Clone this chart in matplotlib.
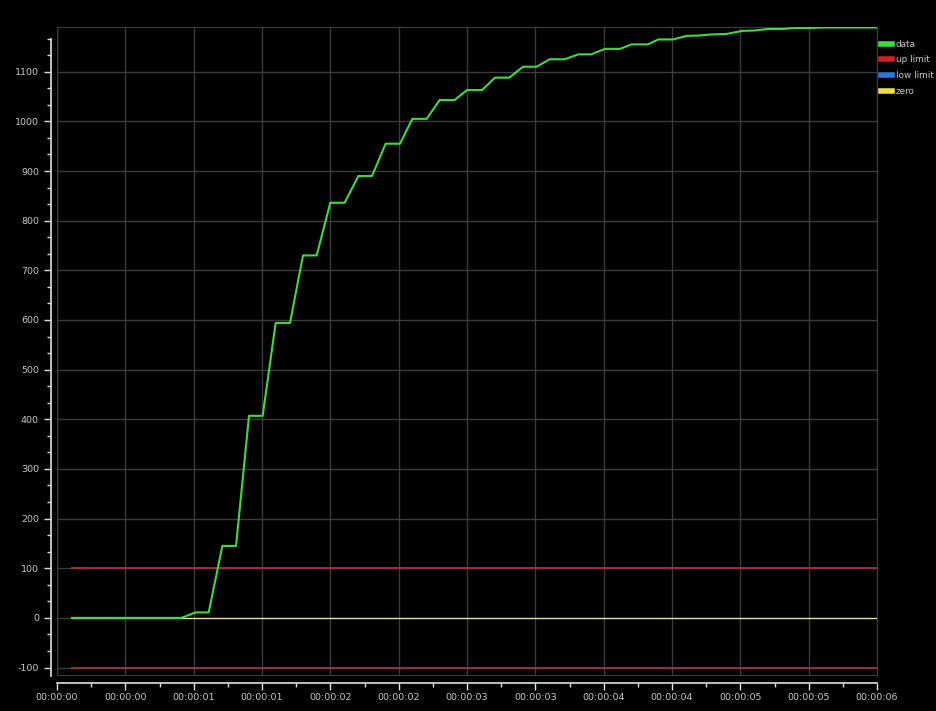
import matplotlib
matplotlib.use("Agg")
import matplotlib.pyplot as plt
from matplotlib.lines import Line2D
from matplotlib.ticker import FuncFormatter, MultipleLocator

# sampled data (seconds, value)
t = [0.11, 0.91, 1.015, 1.11, 1.21, 1.31, 1.405, 1.505, 1.60, 1.705,
     1.80, 1.90, 2.00, 2.105, 2.205, 2.305, 2.405, 2.51, 2.60, 2.705,
     2.80, 2.91, 3.00, 3.11, 3.205, 3.31, 3.41, 3.51, 3.605, 3.715,
     3.815, 3.91, 4.01, 4.12, 4.205, 4.325, 4.40, 4.51, 4.605, 4.705,
     4.79, 4.90, 5.01, 5.105, 5.205, 5.305, 5.41, 5.51, 5.605, 6.0]
data = [0, 0, 11, 11, 145, 145, 407, 407, 594, 594,
        730, 730, 836, 836, 890, 890, 955, 955, 1005, 1005,
        1043, 1043, 1063, 1063, 1088, 1088, 1110, 1110, 1125, 1125,
        1135, 1135, 1146, 1146, 1155, 1155, 1165, 1165, 1172, 1173,
        1175, 1176, 1182, 1183, 1186, 1186, 1188, 1188, 1189, 1189]
up_limit = 100
low_limit = -100
zero = 0

bg = "black"
txt = "#c8c8c8"
grid_c = "#3c3c3c"

fig = plt.figure(figsize=(9.36, 7.11), dpi=100, facecolor=bg)
ax = fig.add_axes([57 / 936, 1 - 676 / 711, 820 / 936, 649 / 711], facecolor=bg)

t0, t1 = t[0], t[-1]
ax.plot([t0, t1], [low_limit, low_limit], color="#a8303c", lw=1.3, zorder=2)
ax.plot([t0, t1], [up_limit, up_limit], color="#a8303c", lw=1.3, zorder=2)
ax.plot([t0, t1], [zero, zero], color="#eee8a8", lw=0.9, zorder=2)
ax.plot(t, data, color="#3cdc3c", lw=1.5, zorder=3)

ax.set_xlim(0, 6)
ax.set_ylim(-117, 1190)

ax.xaxis.set_major_locator(MultipleLocator(0.5))
ax.xaxis.set_minor_locator(MultipleLocator(0.25))
ax.yaxis.set_major_locator(MultipleLocator(100))
ax.yaxis.set_minor_locator(MultipleLocator(100 / 3))


def fmt_time(v, pos):
    s = int(v + 1e-9)
    return "%02d:%02d:%02d" % (s // 3600, (s // 60) % 60, s % 60)


ax.xaxis.set_major_formatter(FuncFormatter(fmt_time))
ax.yaxis.set_major_formatter(FuncFormatter(lambda v, p: "%d" % v))

ax.grid(True, which="major", color=grid_c, lw=1.0, zorder=0)

for side in ["top", "right"]:
    ax.spines[side].set_color(grid_c)
ax.spines["left"].set_position(("outward", 4))
ax.spines["bottom"].set_position(("outward", 5))
ax.spines["left"].set_color("#e0e0e0")
ax.spines["bottom"].set_color("#e0e0e0")
ax.spines["left"].set_bounds(-117, 1166.7)
ax.spines["left"].set_linewidth(1.2)
ax.spines["bottom"].set_linewidth(1.2)

# plot box edges on left/bottom
ax.axvline(0, color=grid_c, lw=1.0, zorder=1)
ax.axhline(-117, color=grid_c, lw=1.5, zorder=1)

ax.tick_params(axis="both", which="major", colors="#e0e0e0", labelcolor=txt,
               labelsize=6.8, length=5, width=1.0, direction="out")
ax.tick_params(axis="both", which="minor", colors="#e0e0e0", length=3, width=1.0)
ax.tick_params(axis="x", pad=2)
ax.tick_params(axis="y", pad=4)

handles = [Line2D([], [], color="#3cdc3c", lw=4),
           Line2D([], [], color="#d02020", lw=4),
           Line2D([], [], color="#2a78e0", lw=4),
           Line2D([], [], color="#f0e040", lw=4)]
leg = fig.legend(handles, ["data", "up limit", "low limit", "zero"],
                 loc="upper left", bbox_to_anchor=(879 / 936, 1 - 38 / 711),
                 frameon=False, fontsize=6.4, handlelength=1.25, handletextpad=0.45,
                 labelspacing=0.75, borderaxespad=0, borderpad=0.2)
for tx in leg.get_texts():
    tx.set_color(txt)

fig.savefig("out.png", dpi=100, facecolor=bg)
